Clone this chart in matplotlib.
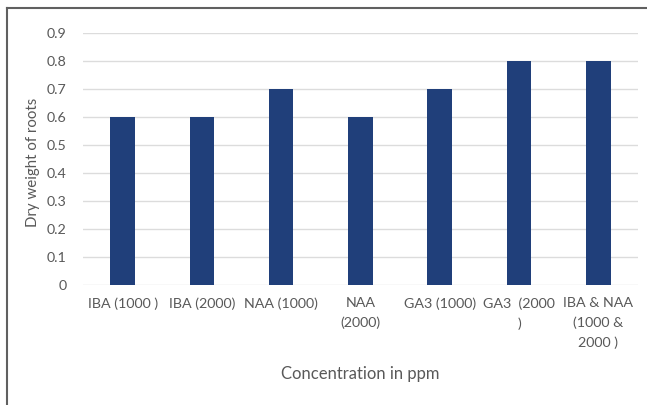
import matplotlib
matplotlib.use('Agg')
import matplotlib.pyplot as plt
import numpy as np

categories = ['IBA (1000 )', 'IBA (2000)', 'NAA (1000)', 'NAA\n(2000)',
              'GA3 (1000)', 'GA3  (2000\n)', 'IBA & NAA\n(1000 &\n2000 )']
values = [0.6, 0.6, 0.7, 0.6, 0.7, 0.8, 0.8]
yticks = [0, 0.1, 0.2, 0.3, 0.4, 0.5, 0.6, 0.7, 0.8, 0.9]
ytick_labels = ['0', '0.1', '0.2', '0.3', '0.4', '0.5', '0.6', '0.7', '0.8', '0.9']

plt.rcParams['font.family'] = ['Lato', 'DejaVu Sans']
text_color = '#595959'

fig = plt.figure(figsize=(6.47, 4.05), dpi=100)
ax = fig.add_axes([0.1283, 0.2963, 0.8577, 0.6222])

x = np.arange(len(categories))
ax.bar(x, values, width=0.31, color='#203f7a', zorder=3)

ax.set_xlim(-0.5, len(categories) - 0.5)
ax.set_ylim(0, 0.9)
ax.set_yticks(yticks)
ax.set_yticklabels(ytick_labels)
ax.set_xticks(x)
ax.set_xticklabels(categories, linespacing=1.7)
ax.tick_params(axis='both', length=0, colors=text_color, labelsize=10.3)
ax.tick_params(axis='y', pad=12)
ax.tick_params(axis='x', pad=9)
ax.grid(axis='y', color='#dcdcdc', linewidth=1, zorder=0)
for s in ax.spines.values():
    s.set_visible(False)

ax.set_xlabel('Concentration in ppm', fontsize=12, color=text_color)
ax.xaxis.set_label_coords(0.5, -0.353)
ax.xaxis.label.set_va('center')
ax.set_ylabel('Dry weight of roots', fontsize=10.8, color=text_color)
ax.yaxis.set_label_coords(-0.09, 0.485)
ax.yaxis.label.set_va('center')

# outer frame (left and top edges only)
fig.add_artist(plt.Line2D([7 / 647, 7 / 647], [0, 1 - 8 / 405], transform=fig.transFigure,
                          color='#606060', linewidth=1.5))
fig.add_artist(plt.Line2D([7 / 647, 1], [1 - 8 / 405, 1 - 8 / 405], transform=fig.transFigure,
                          color='#606060', linewidth=1.5))

fig.savefig('out.png', dpi=100)
